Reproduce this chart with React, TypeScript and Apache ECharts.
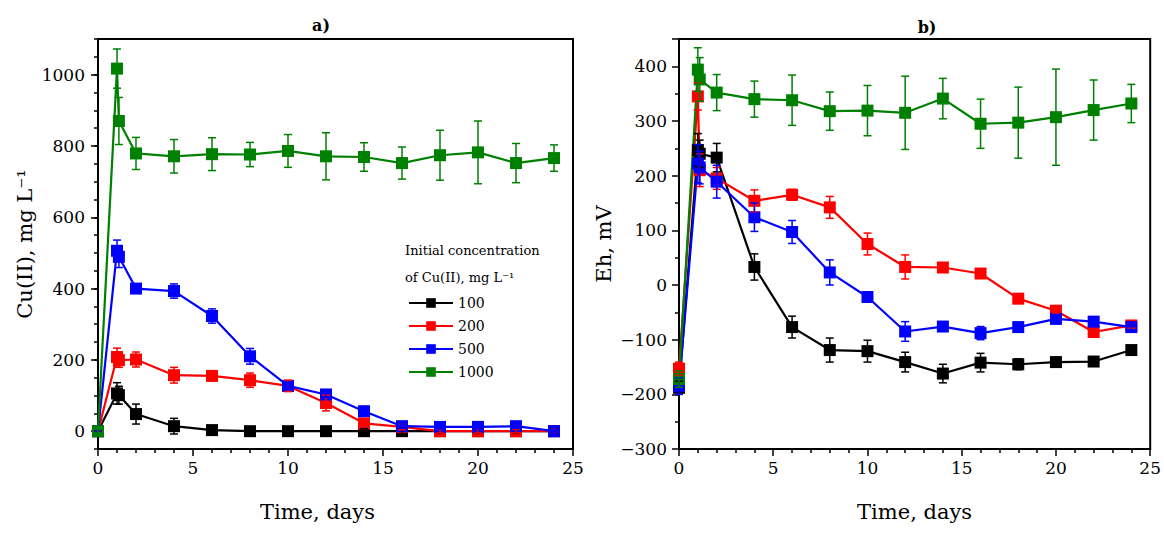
import React, { useEffect, useRef } from "react";
import * as echarts from "echarts";

const FONT = '"DejaVu Serif", serif';

const days = [0, 1, 1.1, 2, 4, 6, 8, 10, 12, 14, 16, 18, 20, 22, 24];
const seriesNames = ["100", "200", "500", "1000"];
const colors = ["#000000", "#ff0000", "#0000ff", "#008000"];

// Panel a) Cu(II), mg/L
const cu100 = [0, 106, 101, 48, 14, 3, 0, 0, 0, 0, 0, 0, 0, 0, 0];
const cu100Err = [3, 30, 25, 28, 22, 12, 12, 12, 10, 8, 8, 6, 6, 6, 6];
const cu200 = [0, 208, 199, 201, 157, 155, 143, 127, 79, 22, 12, 0, 0, 0, 0];
const cu200Err = [3, 25, 20, 21, 22, 8, 20, 16, 22, 10, 8, 5, 5, 5, 5];
const cu500 = [0, 506, 489, 400, 393, 323, 210, 127, 103, 56, 14, 12, 12, 14, 0];
const cu500Err = [3, 30, 30, 12, 20, 20, 22, 10, 8, 6, 6, 6, 6, 6, 5];
const cu1000 = [0, 1017, 870, 779, 771, 777, 776, 786, 771, 769, 752, 774, 782, 752, 766];
const cu1000Err = [5, 55, 66, 45, 47, 46, 34, 46, 66, 40, 45, 70, 88, 55, 37];

// Panel b) Eh, mV
const eh100 = [-188, 247, 240, 233, 33, -77, -119, -121, -141, -162, -142, -145, -141, -140, -119];
const eh100Err = [12, 30, 25, 26, 24, 20, 22, 20, 18, 17, 17, 10, 5, 5, 5];
const eh200 = [-153, 345, 210, 195, 154, 165, 142, 75, 33, 32, 21, -25, -47, -86, -74];
const eh200Err = [12, 25, 30, 20, 20, 10, 20, 20, 22, 5, 6, 5, 5, 5, 5];
const eh500 = [-185, 222, 215, 189, 124, 97, 23, -22, -85, -76, -88, -77, -62, -67, -77];
const eh500Err = [15, 35, 30, 30, 26, 21, 23, 5, 18, 5, 12, 5, 8, 8, 8];
const eh1000 = [-172, 394, 376, 352, 340, 338, 318, 319, 315, 341, 295, 297, 307, 320, 332];
const eh1000Err = [15, 40, 40, 33, 33, 46, 35, 46, 67, 37, 45, 65, 88, 55, 35];

const xTicksMajor = [0, 5, 10, 15, 20, 25];
const cuTickLabels = [0, 200, 400, 600, 800, 1000];

const leftVals = [cu100, cu200, cu500, cu1000];
const leftErrs = [cu100Err, cu200Err, cu500Err, cu1000Err];
const rightVals = [eh100, eh200, eh500, eh1000];
const rightErrs = [eh100Err, eh200Err, eh500Err, eh1000Err];

const minus = (v: number) => String(v).replace("-", "\u2212");

function lineSeries(name: string, color: string, vals: number[], xi: number, yi: number) {
  return {
    type: "line",
    name,
    xAxisIndex: xi,
    yAxisIndex: yi,
    data: days.map((d, i) => [d, vals[i]]),
    symbol: "rect",
    symbolSize: 12,
    lineStyle: { width: 2.2, color },
    itemStyle: { color },
    z: 3,
  };
}

function errSeries(name: string, color: string, vals: number[], errs: number[], xi: number, yi: number) {
  return {
    type: "custom",
    name: "err" + name + "_" + xi,
    xAxisIndex: xi,
    yAxisIndex: yi,
    data: days.map((d, i) => [d, vals[i], errs[i]]),
    encode: { x: 0, y: 1 },
    z: 4,
    renderItem: (params: any, api: any) => {
      const x = api.value(0);
      const y = api.value(1);
      const e = api.value(2);
      const top = api.coord([x, y + e]);
      const bot = api.coord([x, y - e]);
      const w = 4;
      const st = { stroke: color, lineWidth: 1.5 };
      return {
        type: "group",
        children: [
          { type: "line", shape: { x1: top[0], y1: top[1], x2: bot[0], y2: bot[1] }, style: st },
          { type: "line", shape: { x1: top[0] - w, y1: top[1], x2: top[0] + w, y2: top[1] }, style: st },
          { type: "line", shape: { x1: bot[0] - w, y1: bot[1], x2: bot[0] + w, y2: bot[1] }, style: st },
        ],
      };
    },
  };
}

const axisLine = { show: true, onZero: false, lineStyle: { color: "#000", width: 2 } };
const labelStyle = { color: "#000", fontSize: 17, fontFamily: FONT };
const nameStyle = { color: "#000", fontSize: 21, fontFamily: FONT };

function xAxis(gridIndex: number, padRight: number) {
  return {
    type: "value",
    gridIndex,
    min: 0,
    max: 25,
    interval: 5,
    name: "Time, days",
    nameLocation: "middle",
    nameGap: 52,
    nameTextStyle: { ...nameStyle, padding: [0, padRight, 0, 0] },
    axisLine,
    axisTick: { show: true, inside: false, length: 7, lineStyle: { color: "#000", width: 1.5 } },
    minorTick: { show: true, splitNumber: 5, length: 4, lineStyle: { color: "#000", width: 1.5 } },
    axisLabel: {
      ...labelStyle,
      margin: 10,
      formatter: (v: number) => (xTicksMajor.includes(v) ? String(v) : ""),
    },
    splitLine: { show: false },
    minorSplitLine: { show: false },
  };
}

export default function App() {
  const ref = useRef<HTMLDivElement>(null);
  useEffect(() => {
    document.body.style.margin = "0";
    if (!ref.current) return;
    const chart = echarts.init(ref.current, undefined, { renderer: "svg" });
    const series: any[] = [];
    seriesNames.forEach((n, k) => series.push(lineSeries(n, colors[k], leftVals[k], 0, 0)));
    seriesNames.forEach((n, k) => series.push(errSeries(n, colors[k], leftVals[k], leftErrs[k], 0, 0)));
    seriesNames.forEach((n, k) => series.push(lineSeries(n, colors[k], rightVals[k], 1, 2)));
    seriesNames.forEach((n, k) => series.push(errSeries(n, colors[k], rightVals[k], rightErrs[k], 1, 2)));

    const option: any = {
      animation: false,
      backgroundColor: "#fff",
      textStyle: { fontFamily: FONT },
      grid: [
        { left: 98, top: 39, width: 475, height: 410, show: true, borderColor: "#000", borderWidth: 2, backgroundColor: "transparent" },
        { left: 679, top: 39, width: 473, height: 410, show: true, borderColor: "#000", borderWidth: 2, backgroundColor: "transparent" },
      ],
      xAxis: [xAxis(0, 36), xAxis(1, 0)],
      yAxis: [
        {
          type: "value",
          gridIndex: 0,
          min: -50,
          max: 1100,
          interval: 50,
          name: "Cu(II), mg L\u207B\u00B9",
          nameLocation: "middle",
          nameGap: 63,
          nameTextStyle: nameStyle,
          axisLine,
          axisTick: { show: true, length: 4, lineStyle: { color: "#000", width: 1.5 } },
          axisLabel: {
            ...labelStyle,
            margin: 13,
            formatter: (v: number) => (cuTickLabels.includes(v) ? String(v) : ""),
          },
          splitLine: { show: false },
        },
        {
          type: "value",
          gridIndex: 0,
          min: -50,
          max: 1100,
          interval: 50,
          position: "left",
          axisLine: { show: false, onZero: false },
          axisTick: { show: true, length: 7, customValues: cuTickLabels, lineStyle: { color: "#000", width: 1.5 } },
          axisLabel: { show: false },
          splitLine: { show: false },
        },
        {
          type: "value",
          gridIndex: 1,
          min: -300,
          max: 450,
          interval: 100,
          name: "Eh, mV",
          nameLocation: "middle",
          nameGap: 65,
          nameTextStyle: nameStyle,
          axisLine,
          axisTick: { show: true, length: 7, lineStyle: { color: "#000", width: 1.5 } },
          minorTick: { show: true, splitNumber: 2, length: 4, lineStyle: { color: "#000", width: 1.5 } },
          axisLabel: {
            ...labelStyle,
            margin: 12,
            formatter: (v: number) => (v % 100 === 0 ? minus(v) : ""),
          },
          splitLine: { show: false },
          minorSplitLine: { show: false },
        },
      ],
      legend: {
        data: seriesNames,
        orient: "vertical",
        left: 403,
        top: 291,
        itemWidth: 44,
        itemHeight: 12,
        itemGap: 9,
        selectedMode: false,
        textStyle: { color: "#000", fontSize: 14, fontFamily: FONT },
      },
      graphic: [
        { type: "text", x: 321, y: 25, style: { text: "a)", font: `bold 16px ${FONT}`, fill: "#000", align: "center", verticalAlign: "middle" } },
        { type: "text", x: 927, y: 27, style: { text: "b)", font: `bold 16px ${FONT}`, fill: "#000", align: "center", verticalAlign: "middle" } },
        { type: "text", x: 405, y: 250, style: { text: "Initial concentration", font: `13px ${FONT}`, fill: "#000", align: "left", verticalAlign: "middle" } },
        { type: "text", x: 405, y: 277, style: { text: "of Cu(II), mg L\u207B\u00B9", font: `13px ${FONT}`, fill: "#000", align: "left", verticalAlign: "middle" } },
      ],
      series,
    };
    chart.setOption(option);
    return () => chart.dispose();
  }, []);
  return <div ref={ref} style={{ width: 1164, height: 534 }} />;
}
